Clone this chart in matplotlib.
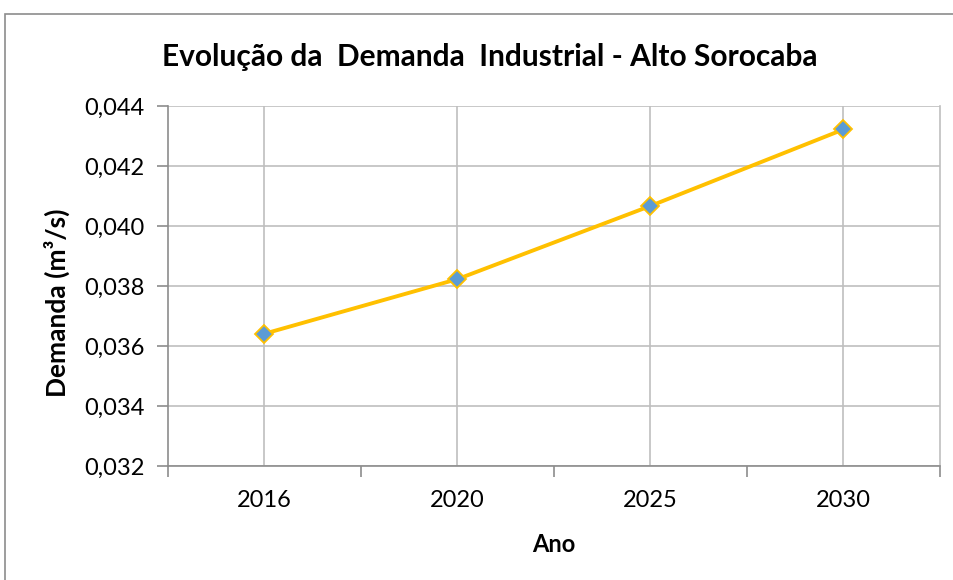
import matplotlib.pyplot as plt
import matplotlib.patches as patches
import numpy as np
from matplotlib.ticker import FixedLocator, FuncFormatter

plt.rcParams['font.family'] = ['Lato', 'DejaVu Sans']

anos = ["2016", "2020", "2025", "2030"]
demanda = [0.03641, 0.03823, 0.04067, 0.04322]
yticks = [0.032, 0.034, 0.036, 0.038, 0.040, 0.042, 0.044]

grid_c = "#BFBFBF"
axis_c = "#8C8C8C"

fig = plt.figure(figsize=(9.54, 5.80), dpi=100)
ax = fig.add_axes([168/954, 1 - 466/580, (940-168)/954, (466-106)/580])

# chart border
fig.patches.append(patches.Rectangle((5/954, -0.1), 1.2, 1 - 14/580 + 0.1,
                                     transform=fig.transFigure, fill=False,
                                     edgecolor="#8C8C8C", linewidth=1.2))

x = np.arange(len(anos))
ax.plot(x, demanda, color="#FFC000", linewidth=2.8, marker="D", markersize=9,
        markerfacecolor="#5B9BD5", markeredgecolor="#FFC000", markeredgewidth=1.3,
        zorder=3)

ax.set_xlim(-0.5, len(anos) - 0.5)
ax.set_ylim(0.032, 0.044)
ax.set_yticks(yticks)
ax.yaxis.set_major_formatter(FuncFormatter(lambda v, p: f"{v:.3f}".replace(".", ",")))
ax.set_xticks(x)
ax.set_xticklabels(anos)
ax.xaxis.set_minor_locator(FixedLocator(np.arange(-0.5, len(anos), 1.0)))

ax.grid(True, which="major", color=grid_c, linewidth=1.2)
ax.set_axisbelow(True)
ax.tick_params(axis="x", which="major", length=0, labelsize=17, pad=17)
ax.tick_params(axis="x", which="minor", length=8, width=1.2, color=axis_c)
ax.tick_params(axis="y", which="major", length=8, width=1.2, color=axis_c,
               labelsize=17, pad=9)

ax.spines["top"].set_visible(False)
ax.spines["right"].set_color(grid_c)
ax.spines["right"].set_linewidth(1.2)
ax.spines["left"].set_color(axis_c)
ax.spines["bottom"].set_color(axis_c)
ax.spines["left"].set_linewidth(1.2)
ax.spines["bottom"].set_linewidth(1.2)

ax.set_xlabel("Ano", fontsize=17, fontweight="bold", labelpad=16)
ax.set_ylabel("Demanda (m³/s)", fontsize=19, fontweight="bold")
ax.yaxis.set_label_coords(-0.127, 0.453)
fig.text(490/954, 1 - 57/580, "Evolução da  Demanda  Industrial - Alto Sorocaba",
         ha="center", va="center", fontsize=21.5, fontweight="bold")

fig.savefig("out.png", dpi=100)
